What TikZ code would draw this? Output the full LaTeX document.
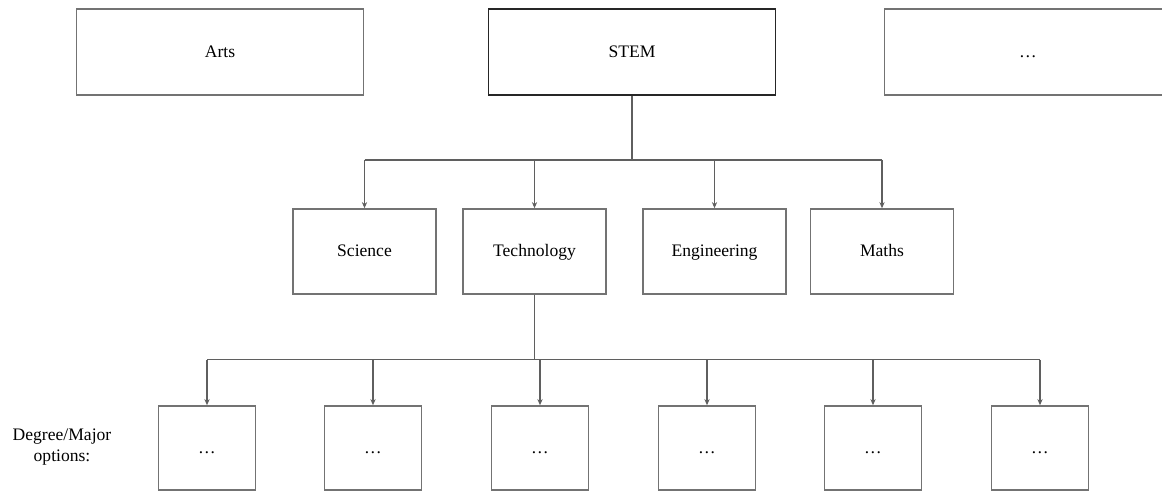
\documentclass[tikz,border=0pt]{standalone}
\usepackage{fontspec}
\setmainfont{Liberation Serif}
\usetikzlibrary{arrows.meta}
\definecolor{boxgray}{RGB}{115,115,115}
\definecolor{linegray}{RGB}{95,95,95}
\begin{document}
\begin{tikzpicture}[>={Stealth[length=3.5pt,width=3pt]},font=\fontsize{10}{12}\selectfont,
  box/.style={draw=boxgray,line width=0.9pt,text height=1.5ex,text depth=.25ex},
  field/.style={box,minimum width=5.74cm,minimum height=1.72cm},
  subject/.style={box,minimum width=2.86cm,minimum height=1.70cm},
  degree/.style={box,minimum width=1.94cm,minimum height=1.68cm},
  link/.style={draw=linegray,line width=0.65pt}]
\useasboundingbox (0,0) rectangle (23.24,-9.84);

\node[field] (arts) at (4.40,-1.04) {Arts};
\node[field,draw=black!85,line width=1.1pt] (stem) at (12.64,-1.04) {STEM};
\node[field] (other) at (20.56,-1.04) {\dots};

\node[subject] (sci) at (7.29,-5.03) {Science};
\node[subject] (tech) at (10.69,-5.03) {Technology};
\node[subject] (eng) at (14.29,-5.03) {Engineering};
\node[subject] (math) at (17.64,-5.03) {Maths};

\node[degree] (d1) at (4.14,-8.96) {\dots};
\node[degree] (d2) at (7.46,-8.96) {\dots};
\node[degree] (d3) at (10.80,-8.96) {\dots};
\node[degree] (d4) at (14.14,-8.96) {\dots};
\node[degree] (d5) at (17.46,-8.96) {\dots};
\node[degree] (d6) at (20.80,-8.96) {\dots};

\node[align=center] (opts) at (1.24,-8.94) {Degree/Major\\options:};

% STEM to subjects
\draw[link] (stem.south) -- ++(0,-1.28) coordinate (bus1);
\draw[link] (sci.north |- bus1) -- (math.north |- bus1);
\foreach \s in {sci,tech,eng,math}
  \draw[link,->] (\s.north |- bus1) -- (\s.north);

% Technology to degrees
\draw[link] (tech.south) -- ++(0,-1.30) coordinate (bus2);
\draw[link] (d1.north |- bus2) -- (d6.north |- bus2);
\foreach \d in {d1,d2,d3,d4,d5,d6}
  \draw[link,->] (\d.north |- bus2) -- (\d.north);
\end{tikzpicture}
\end{document}
